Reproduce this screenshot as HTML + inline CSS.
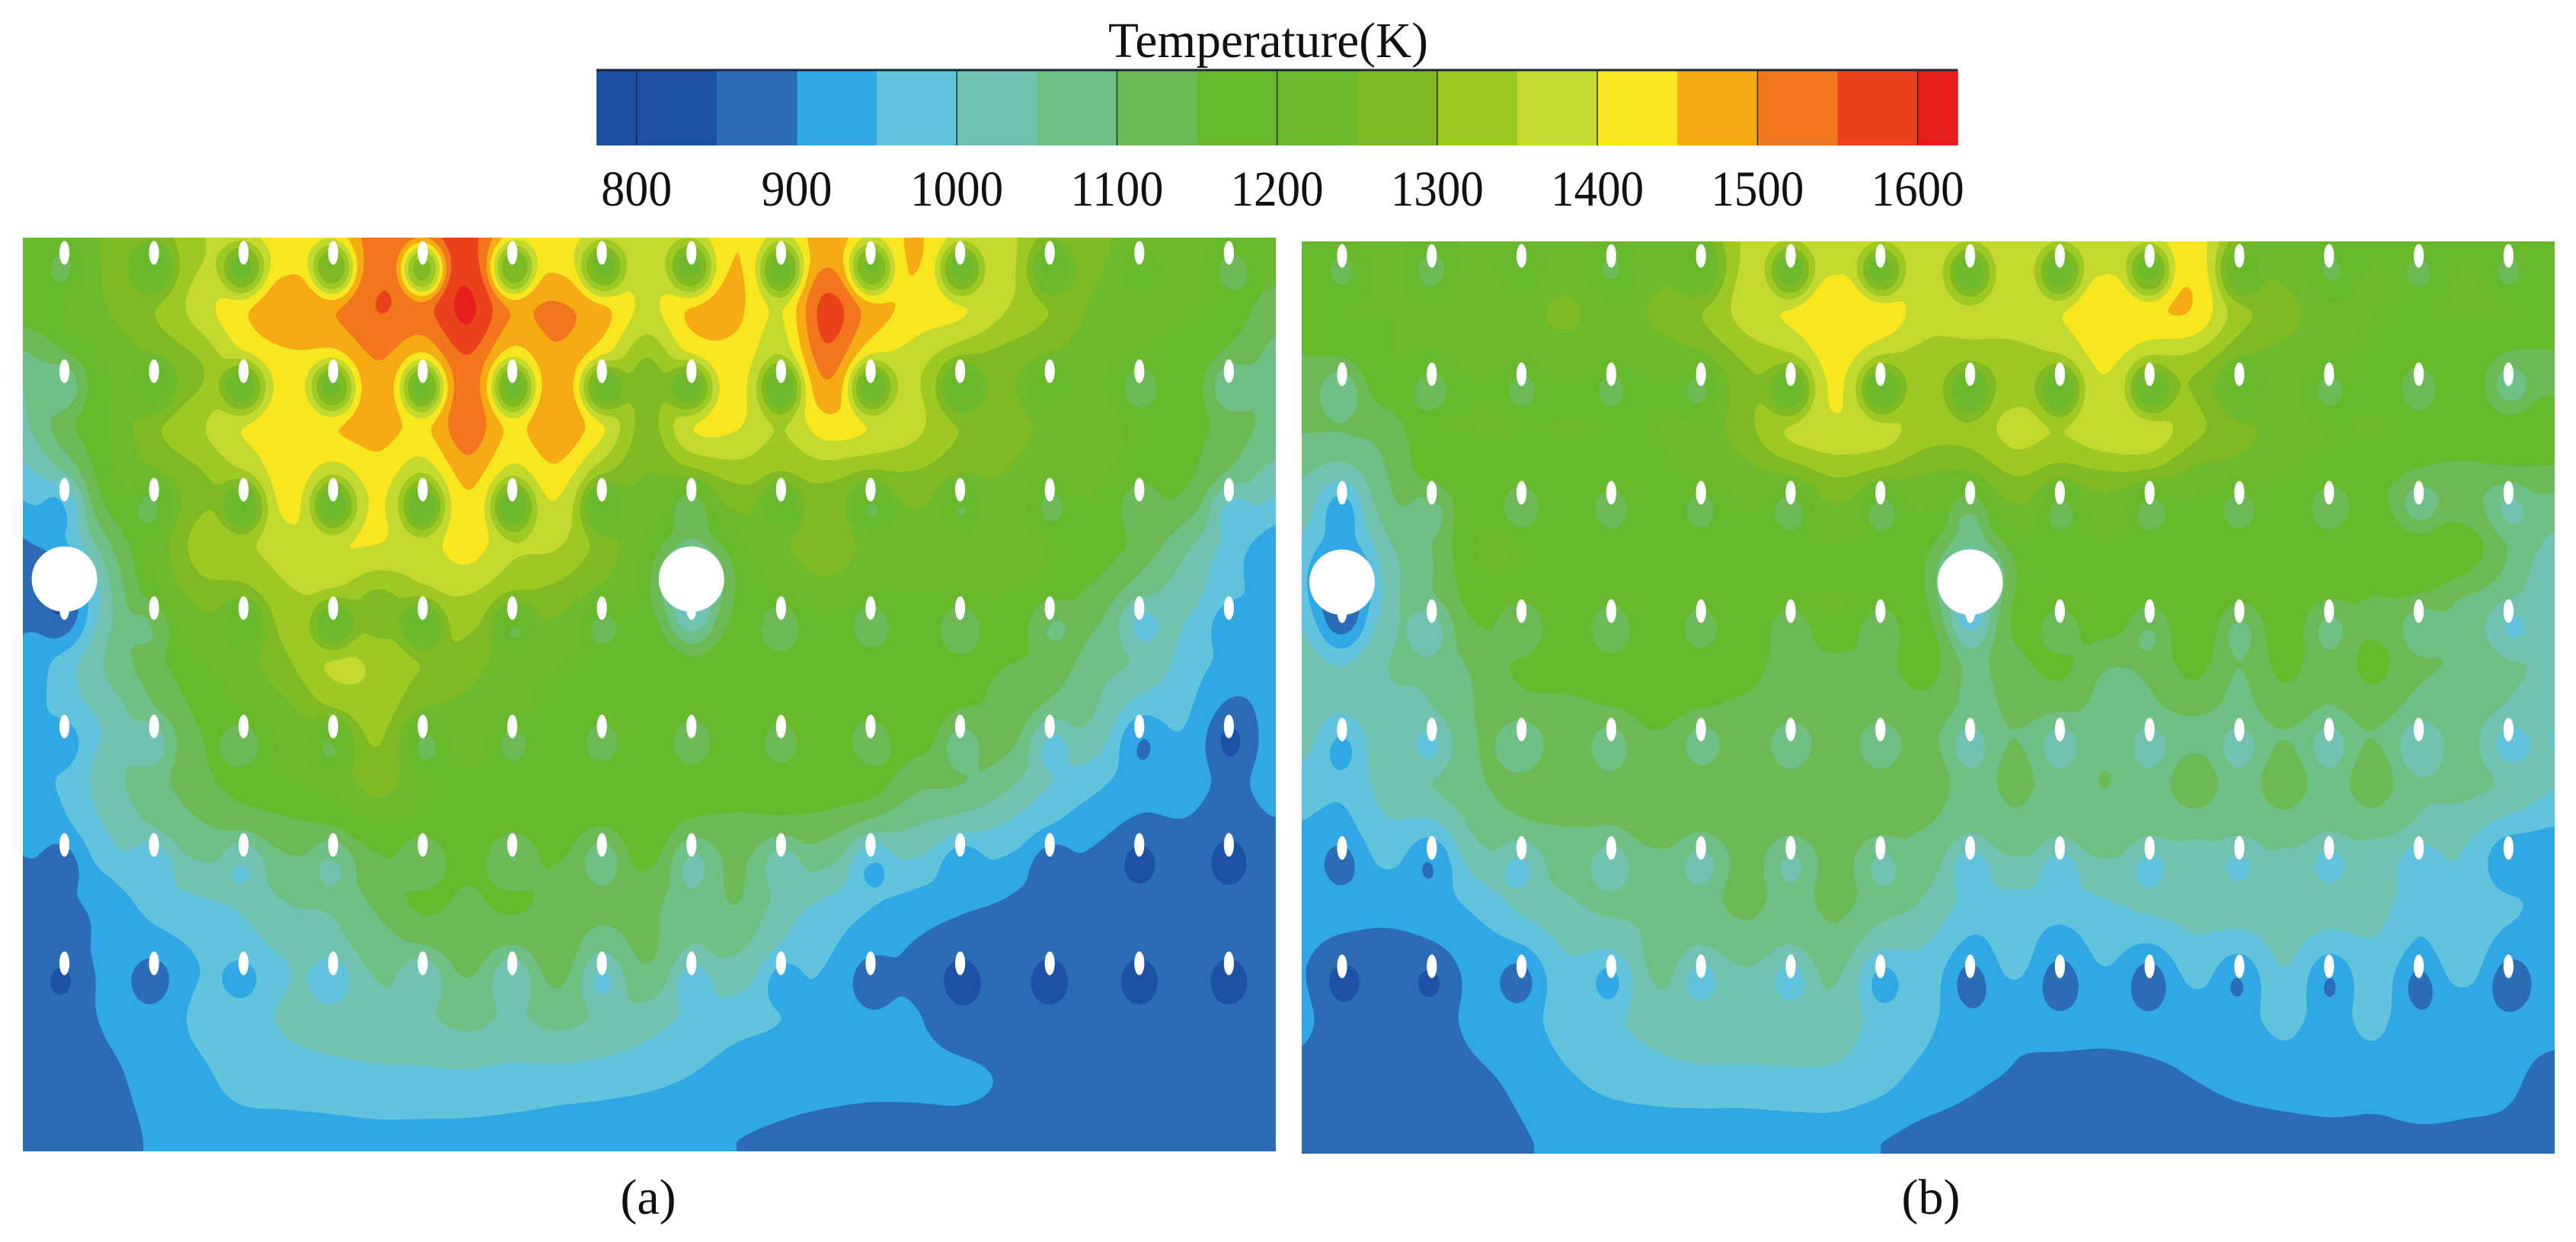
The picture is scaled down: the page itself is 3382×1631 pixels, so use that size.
<!DOCTYPE html>
<html>
<head>
<meta charset="utf-8">
<title>Temperature contours</title>
<style>
html,body{margin:0;padding:0;background:#fff;width:3382px;height:1631px;overflow:hidden}
svg{display:block}
text{font-family:"Liberation Serif",serif;fill:#111}
</style>
</head>
<body>
<svg id="chart" xmlns="http://www.w3.org/2000/svg" width="3382" height="1631" viewBox="0 0 3382 1631">
<rect width="3382" height="1631" fill="#fff"/>
<text x="1665" y="75" font-size="66" text-anchor="middle" textLength="420" lengthAdjust="spacingAndGlyphs">Temperature(K)</text>
<g id="colorbar"></g>
<g id="panelA"></g>
<g id="panelB"></g>
<text x="851" y="1594" font-size="66" text-anchor="middle">(a)</text>
<text x="2535" y="1594" font-size="66" text-anchor="middle">(b)</text>
</svg>
<script>
// Temperature (K), nodes at hole rows/columns and their midpoints.
const tempA = [
[1200,1200,1260,1280,1340,1400,1420,1440,1530,1540,1570,1450,1420,1390,1370,1380,1450,1400,1480,1420,1455,1400,1370,1290,1260,1240,1240,1200,1180],
[1170,1200,1250,1300,1370,1445,1495,1500,1550,1535,1610,1500,1510,1470,1385,1460,1460,1400,1570,1480,1430,1410,1350,1300,1240,1220,1200,1180,1120],
[1060,1130,1200,1250,1290,1390,1420,1430,1490,1440,1530,1420,1480,1410,1280,1400,1420,1360,1510,1400,1360,1290,1260,1240,1210,1190,1180,1130,1080],
[1030,1130,1200,1290,1340,1405,1430,1450,1470,1440,1530,1440,1490,1410,1280,1400,1400,1350,1420,1400,1360,1300,1270,1240,1220,1190,1170,1130,1080],
[960,1030,1180,1230,1280,1340,1420,1360,1410,1350,1450,1370,1410,1290,1240,1250,1290,1290,1290,1260,1270,1250,1240,1210,1200,1180,1150,1080,1010],
[900,1000,1100,1210,1320,1340,1380,1400,1395,1380,1420,1360,1350,1280,1220,1230,1210,1240,1290,1230,1220,1220,1220,1200,1180,1130,1060,980,920],
[900,950,1050,1180,1250,1270,1330,1340,1270,1330,1330,1290,1260,1230,1200,1190,1190,1190,1200,1190,1190,1190,1190,1170,1120,1060,1010,970,920],
[910,980,1060,1130,1190,1230,1290,1360,1340,1300,1270,1220,1200,1190,1190,1180,1170,1170,1180,1180,1160,1160,1150,1130,1070,1040,980,930,910],
[920,970,1010,1090,1150,1190,1220,1280,1310,1240,1220,1210,1190,1190,1190,1180,1180,1190,1180,1180,1180,1150,1130,1070,1040,950,950,880,915],
[925,960,1030,1080,1130,1170,1190,1210,1270,1200,1190,1190,1190,1190,1180,1180,1180,1180,1180,1170,1110,1100,1060,1000,960,920,920,890,915],
[905,930,990,1040,1070,1090,1110,1130,1160,1170,1170,1160,1160,1140,1170,1120,1110,1110,1090,1040,1020,990,965,930,900,880,885,870,885],
[870,890,920,970,990,1010,1050,1060,1110,1160,1140,1160,1130,1120,1120,1060,1100,1030,990,955,930,910,895,870,870,870,870,870,870],
[875,885,910,920,950,980,1000,1030,1060,1080,1110,1080,1120,1060,1100,1050,1040,990,950,915,890,872,872,872,872,872,872,872,872],
[860,880,905,920,960,985,1005,1020,1030,1040,1060,1040,1060,1040,1020,985,965,950,925,910,905,870,865,865,865,865,865,865,865],
[860,870,890,915,935,970,975,980,985,985,985,980,975,970,960,945,930,925,920,915,915,915,893,865,865,865,865,865,865],
[860,865,880,905,915,920,925,930,935,935,935,930,925,915,910,905,900,890,875,865,865,865,865,865,865,865,865,865,865]
];
const tempB = [
[1200,1200,1210,1190,1210,1220,1210,1200,1220,1240,1360,1370,1380,1380,1370,1380,1380,1380,1380,1390,1430,1280,1220,1200,1200,1200,1200,1200,1200],
[1190,1200,1200,1210,1230,1230,1260,1220,1260,1300,1370,1410,1445,1440,1370,1370,1375,1400,1445,1445,1440,1320,1270,1220,1200,1200,1200,1200,1190],
[1130,1140,1190,1190,1200,1200,1200,1200,1200,1220,1290,1330,1410,1330,1320,1320,1320,1340,1400,1330,1300,1240,1210,1200,1190,1180,1190,1130,1130],
[1100,1100,1120,1190,1200,1200,1200,1200,1200,1220,1280,1360,1385,1375,1320,1320,1365,1350,1385,1385,1310,1270,1220,1200,1200,1190,1190,1190,1190],
[1040,1000,1090,1160,1180,1180,1190,1190,1190,1200,1210,1220,1270,1240,1220,1220,1270,1240,1250,1240,1200,1200,1190,1180,1160,1130,1110,1110,1100],
[1010,1000,1050,1100,1200,1200,1190,1190,1190,1190,1190,1190,1190,1190,1190,1190,1190,1190,1190,1190,1190,1190,1190,1190,1190,1190,1180,1100,1030],
[1010,980,1040,1100,1160,1170,1180,1180,1190,1190,1190,1190,1200,1190,1190,1170,1190,1190,1190,1180,1190,1170,1170,1160,1140,1140,1080,1060,1000],
[1030,1010,1050,1060,1110,1160,1170,1170,1170,1180,1170,1120,1130,1130,1170,1100,1130,1160,1100,1110,1160,1100,1160,1120,1160,1110,1090,1060,1040],
[1020,1000,1030,1050,1100,1120,1120,1140,1150,1140,1120,1130,1110,1130,1110,1090,1100,1090,1090,1090,1090,1090,1100,1090,1100,1070,1060,1040,1000],
[980,960,1020,1050,1090,1120,1130,1120,1140,1140,1140,1130,1140,1130,1130,1080,1110,1080,1100,1080,1120,1080,1120,1080,1120,1060,1060,1040,1000],
[930,925,970,950,1040,1070,1080,1090,1100,1100,1110,1110,1110,1110,1080,1050,1060,1060,1060,1060,1040,1060,1050,1050,1040,1030,1000,945,925],
[925,920,915,925,960,1010,1040,1060,1060,1080,1110,1080,1110,1070,1040,980,980,970,990,1010,1020,1030,1030,1030,1020,970,980,960,930],
[905,875,880,885,915,925,990,990,1060,1040,1050,1040,1060,990,980,925,960,915,950,920,970,945,1000,945,980,935,970,915,920],
[910,880,880,885,910,930,970,990,1020,1040,1040,1040,1030,980,960,915,910,910,910,910,920,930,960,930,960,910,910,910,910],
[880,870,870,880,890,910,940,960,970,975,975,980,980,960,930,905,895,885,888,890,898,910,920,920,915,915,910,905,885],
[870,870,870,870,875,895,910,915,920,920,920,920,920,900,880,875,870,870,870,870,870,875,880,885,890,893,893,890,875]
];
const contourLevels = [800,850,900,950,1000,1050,1100,1150,1200,1250,1300,1350,1400,1450,1500,1550,1600];
const tickValues = [800,900,1000,1100,1200,1300,1400,1500,1600];
const bandColors = ['#1d4fa0','#1c51a5','#2b6cb5','#30a8e5','#62c3dc','#72c2b2','#6ec084','#6db955','#68b82c','#6cb92e','#7fba24','#9dc922','#c4d92f','#f8e71f','#f6ab14','#f2761c','#ea431b','#e71d1c'];
const bigHoles = [[0,3],[7,3]];
const bigHoleCoolingA = [100,240];
const bigHoleCoolingB = [150,240];
const holeCols = 14, holeRows = 7;

const NS = 'http://www.w3.org/2000/svg';
function make(tag, attrs, parent){
  const e = document.createElementNS(NS, tag);
  for (const k in attrs) e.setAttribute(k, attrs[k]);
  parent.appendChild(e);
  return e;
}

/* ---------- colorbar ---------- */
const barScale = t => 835.7 + (t - 800) * 2.1024;
(function drawColorbar(){
  const g = document.getElementById('colorbar');
  const top = 92, bottom = 191;
  const edges = [775].concat(contourLevels, [1625]);
  for (let i = 0; i < bandColors.length; i++){
    const x0 = barScale(edges[i]), x1 = barScale(edges[i+1]);
    const r = make('rect', {x:x0, y:top, width:x1-x0+0.6, height:bottom-top, fill:bandColors[i]}, g);
    
    
  }
  const edge = make('line', {x1:barScale(775), x2:barScale(1625), y1:top, y2:top, stroke:'#1b2a3a', 'stroke-width':3}, g);
  
  
  tickValues.forEach(function(t){
    const l = make('line', {x1:barScale(t), x2:barScale(t), y1:top, y2:bottom, stroke:'#1a2b2a', 'stroke-width':1.6, 'stroke-opacity':t===900?0.25:0.9}, g);
    
    
    const s = String(t);
    const tx = make('text', {x:barScale(t), y:270, 'font-size':66, 'text-anchor':'middle', textLength:s.length===3?93:122, lengthAdjust:'spacingAndGlyphs'}, g);
    tx.textContent = s;
    
    
  });
})();

/* ---------- contour panels ---------- */
function catmull(t){
  const t2 = t*t, t3 = t2*t;
  return [-0.5*t3+t2-0.5*t, 1.5*t3-2.5*t2+1, -1.5*t3+2*t2+0.5*t, 0.5*t3-0.5*t2];
}
function sampleGrid(grid, u, v){
  const R = grid.length, C = grid[0].length;
  u = Math.max(0, Math.min(C-1.001, u));
  v = Math.max(0, Math.min(R-1.001, v));
  const i = Math.floor(u), j = Math.floor(v);
  const wu = catmull(u-i), wv = catmull(v-j);
  let s = 0;
  for (let b = 0; b < 4; b++){
    const row = grid[Math.max(0, Math.min(R-1, j-1+b))];
    for (let a = 0; a < 4; a++){
      s += wv[b]*wu[a]*row[Math.max(0, Math.min(C-1, i-1+a))];
    }
  }
  return s;
}
function holeCooling(base){
  if (base > 1200) return 60 + (base-1200)*0.6;
  return 38 + Math.max(0, Math.min(1, (base-950)/100))*22;
}
function drawPanel(groupId, grid, P, prefix, bigCooling){
  const g = document.getElementById(groupId);
  const step = 4;
  const nx = Math.ceil(P.w/step)+1, ny = Math.ceil(P.h/step)+1;
  const f = new Float32Array(nx*ny);
  const nodeDx = P.hdx/2, nodeDy = P.hdy/2;
  const toU = x => (x-P.hx0)/nodeDx + 1;
  const toV = y => (y-P.hy0)/nodeDy;
  for (let r = 0; r < ny; r++){
    const y = P.y + r*step;
    for (let c = 0; c < nx; c++){
      f[r*nx+c] = sampleGrid(grid, toU(P.x+c*step), toV(y));
    }
  }
  function addDip(cx, cy, sx, sy, depth, k, p, ext){
    const c0 = Math.max(0, Math.floor((cx-ext*sx-P.x)/step)), c1 = Math.min(nx-1, Math.ceil((cx+ext*sx-P.x)/step));
    const r0 = Math.max(0, Math.floor((cy-ext*sy-P.y)/step)), r1 = Math.min(ny-1, Math.ceil((cy+ext*sy-P.y)/step));
    for (let r = r0; r <= r1; r++){
      const dy = (P.y+r*step-cy)/sy;
      for (let c = c0; c <= c1; c++){
        const dx = (P.x+c*step-cx)/sx;
        f[r*nx+c] -= depth*Math.exp(-k*Math.pow(dx*dx+dy*dy, p/2));
      }
    }
  }
  for (let r = 0; r < holeRows; r++){
    for (let c = 0; c < holeCols; c++){
      const hx = P.hx0+c*P.hdx, hy = P.hy0+r*P.hdy;
      const base = sampleGrid(grid, toU(hx), toV(hy));
      addDip(hx, hy+22, 36, 44, holeCooling(base), 2, 3, 2);
    }
  }
  bigHoles.forEach(function(b, n){
    addDip(P.hx0+b[0]*P.hdx, P.hy0+b[1]*P.hdy-38, 32, 45, bigCooling[n], 0.5, 2, 3.5);
  });

  const clipId = prefix+'-clip';
  const defs = make('defs', {}, g);
  const cp = make('clipPath', {id:clipId}, defs);
  make('rect', {x:P.x, y:P.y, width:P.w, height:P.h}, cp);
  const body = make('g', {'clip-path':'url(#'+clipId+')'}, g);
  const bg = make('rect', {x:P.x, y:P.y, width:P.w, height:P.h, fill:bandColors[0]}, body);
  
  

  contourLevels.forEach(function(L, li){
    const parts = [];
    for (let r = 0; r < ny-1; r++){
      const y0 = P.y+r*step, y1 = y0+step;
      let run = -1;
      for (let c = 0; c < nx-1; c++){
        const a = f[r*nx+c], b = f[r*nx+c+1], d = f[(r+1)*nx+c], e = f[(r+1)*nx+c+1];
        const full = a>=L && b>=L && d>=L && e>=L;
        if (full){ if (run < 0) run = c; continue; }
        if (run >= 0){
          parts.push('M'+(P.x+run*step)+' '+y0+'H'+(P.x+c*step)+'V'+y1+'H'+(P.x+run*step)+'Z');
          run = -1;
        }
        if (a<L && b<L && d<L && e<L) continue;
        const x0 = P.x+c*step, x1 = x0+step;
        const corners = [[x0,y0,a],[x1,y0,b],[x1,y1,e],[x0,y1,d]];
        const pts = [];
        for (let k = 0; k < 4; k++){
          const p = corners[k], q = corners[(k+1)%4];
          if (p[2] >= L) pts.push(p[0].toFixed(1)+' '+p[1].toFixed(1));
          if ((p[2] >= L) !== (q[2] >= L)){
            const t = (L-p[2])/(q[2]-p[2]);
            pts.push((p[0]+t*(q[0]-p[0])).toFixed(1)+' '+(p[1]+t*(q[1]-p[1])).toFixed(1));
          }
        }
        if (pts.length > 2) parts.push('M'+pts.join('L')+'Z');
      }
      if (run >= 0){
        parts.push('M'+(P.x+run*step)+' '+y0+'H'+(P.x+(nx-1)*step)+'V'+y1+'H'+(P.x+run*step)+'Z');
      }
    }
    if (!parts.length) return;
    const col = bandColors[li+1];
    const path = make('path', {d:parts.join(''), fill:col, stroke:col, 'stroke-width':0.7}, body);
    
    
  });

  for (let r = 0; r < holeRows; r++){
    for (let c = 0; c < holeCols; c++){
      const h = make('ellipse', {cx:P.hx0+c*P.hdx, cy:P.hy0+r*P.hdy, rx:6.6, ry:15.5, fill:'#fff'}, g);
      
      
    }
  }
  bigHoles.forEach(function(b){
    const h = make('circle', {cx:P.hx0+b[0]*P.hdx, cy:P.hy0+b[1]*P.hdy-38, r:43, fill:'#fff'}, g);
    
    
  });
}
drawPanel('panelA', tempA, {x:30, y:312, w:1645, h:1200, hx0:84.6, hy0:332, hdx:117.6, hdy:155.5}, 'panel-a', bigHoleCoolingA);
drawPanel('panelB', tempB, {x:1709, y:317, w:1645, h:1198, hx0:1762, hy0:336, hdx:117.8, hdy:155.5}, 'panel-b', bigHoleCoolingB);
</script>
</body>
</html>
